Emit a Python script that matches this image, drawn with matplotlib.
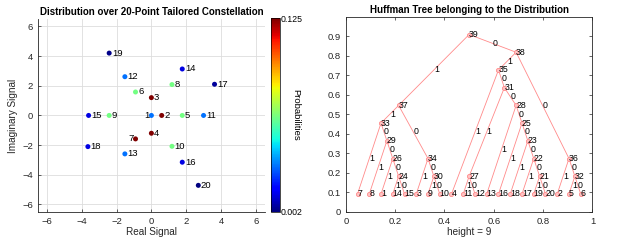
import numpy as np
import matplotlib
matplotlib.use("Agg")
import matplotlib.pyplot as plt

plt.rcParams['font.family'] = ['Liberation Sans', 'DejaVu Sans']

# ---------------- data ----------------
symbols = list(range(1, 21))
real_part = [0.0, 0.59, 0.0, 0.0, 1.77, -0.91, -0.91, 1.18, -2.42, 1.18,
             2.99, -1.52, -1.52, 1.77, -3.6, 1.77, 3.62, -3.64, -2.42, 2.69]
imag_part = [0.0, 0.0, 1.2, -1.2, 0.0, 1.58, -1.58, 2.08, 0.0, -2.08,
             0.0, 2.61, -2.59, 3.13, 0.0, -3.15, 2.1, -2.1, 4.2, -4.71]
probabilities = [0.03125, 0.125, 0.125, 0.125, 0.0625, 0.0625, 0.125, 0.0625, 0.0625, 0.0625,
                 0.03125, 0.03125, 0.03125, 0.013, 0.013, 0.013, 0.005, 0.013, 0.003, 0.002]

# Huffman tree: internal node -> (child on edge "1", child on edge "0")
internal_nodes = list(range(21, 40))
child_one = [19, 17, 18, 14, 16, 1, 11, 13, 8, 9, 27, 5, 7, 3, 4, 2, 33, 35, 37]
child_zero = [20, 21, 22, 15, 23, 24, 12, 25, 26, 10, 28, 6, 29, 30, 31, 32, 34, 36, 38]
root = 39
tree_height = 9

prob_min, prob_max = 0.002, 0.125
axis_ticks = [-6, -4, -2, 0, 2, 4, 6]

# ---------------- figure ----------------
fig = plt.figure(figsize=(6.23, 2.40), dpi=100)

# ---- left: constellation ----
ax1 = fig.add_axes([0.061, 0.117, 0.364, 0.804])
sc = ax1.scatter(real_part, imag_part, c=probabilities, cmap='jet',
                 vmin=prob_min, vmax=prob_max, s=13, zorder=3, linewidths=0)
for sym, xr, yi in zip(symbols, real_part, imag_part):
    if sym in (1, 7):
        ax1.text(xr - 0.1, yi, str(sym), ha='right', va='center', fontsize=6.8, zorder=4)
    else:
        ax1.text(xr + 0.15, yi, str(sym), ha='left', va='center', fontsize=6.8, zorder=4)
ax1.set_xlim(-6.5, 6.5)
ax1.set_ylim(-6.5, 6.5)
ax1.set_xticks(axis_ticks)
ax1.set_yticks(axis_ticks)
ax1.grid(True, color='#dddddd', linewidth=0.6)
ax1.set_axisbelow(True)
ax1.tick_params(labelsize=6.8, direction='in', length=2, width=0.5, colors='#262626')
for side in ('top', 'right'):
    ax1.spines[side].set_visible(False)
for side in ('left', 'bottom'):
    ax1.spines[side].set_linewidth(0.6)
    ax1.spines[side].set_color('#262626')
ax1.set_title('Distribution over 20-Point Tailored Constellation', fontsize=7,
              fontweight='bold', pad=3)
ax1.set_xlabel('Real Signal', fontsize=7.2, labelpad=1, color='#262626')
ax1.set_ylabel('Imaginary Signal', fontsize=7.2, labelpad=3, color='#262626')

cax = fig.add_axes([0.4355, 0.117, 0.0135, 0.807])
cb = fig.colorbar(sc, cax=cax)
cb.set_ticks([prob_min, prob_max])
cb.set_ticklabels(['0.002', '0.125'])
cb.ax.tick_params(labelsize=6.3, length=0, pad=1)
cb.outline.set_linewidth(0.5)
cb.set_label('Probabilities', rotation=270, fontsize=6.8, labelpad=-2)

# ---- right: Huffman tree ----
children = {n: (a, b) for n, a, b in zip(internal_nodes, child_one, child_zero)}

leaf_order = []
def collect(node):
    if node in children:
        collect(children[node][0])
        collect(children[node][1])
    else:
        leaf_order.append(node)
collect(root)
n_leaves = len(leaf_order)

pos_x, pos_y = {}, {}
def layout(node):
    if node in children:
        a, b = children[node]
        la, ha_ = layout(a)
        lb, hb = layout(b)
        leaves = la + lb
        h = max(ha_, hb) + 1
    else:
        leaves = [(leaf_order.index(node) + 1) / (n_leaves + 1)]
        h = 0
    pos_x[node] = np.mean(leaves)
    pos_y[node] = (h + 1) / (tree_height + 2)
    return leaves, h
layout(root)

ax2 = fig.add_axes([0.555, 0.118, 0.396, 0.812])
tree_color = '#ff8a8a'
for n in internal_nodes:
    for c, lab in zip(children[n], ('1', '0')):
        ax2.plot([pos_x[n], pos_x[c]], [pos_y[n], pos_y[c]], color=tree_color,
                 linewidth=0.6, zorder=2)
        mx = (pos_x[n] + pos_x[c]) / 2
        my = (pos_y[n] + pos_y[c]) / 2
        ax2.text(mx, my, lab, ha='left', va='center', fontsize=6.3, zorder=4)
all_nodes = list(pos_x.keys())
ax2.plot([pos_x[n] for n in all_nodes], [pos_y[n] for n in all_nodes], 'o',
         color=tree_color, markersize=3, markerfacecolor='#ffc4c4',
         markeredgewidth=0.6, zorder=3)
for n in all_nodes:
    ax2.text(pos_x[n], pos_y[n], str(n), ha='left', va='center', fontsize=6.3, zorder=4)

ax2.set_xlim(0, 1)
ax2.set_ylim(0, 1)
ax2.set_xticks([0, 0.2, 0.4, 0.6, 0.8, 1])
ax2.set_xticklabels(['0', '0.2', '0.4', '0.6', '0.8', '1'])
ax2.set_yticks(np.round(np.arange(0, 1.0, 0.1), 1))
ax2.set_yticklabels(['0', '0.1', '0.2', '0.3', '0.4', '0.5', '0.6', '0.7', '0.8', '0.9'])
ax2.tick_params(labelsize=6.8, direction='in', length=2, width=0.5,
                top=True, right=True, colors='#262626')
for side in ax2.spines:
    ax2.spines[side].set_linewidth(0.6)
    ax2.spines[side].set_color('#262626')
ax2.set_title('Huffman Tree belonging to the Distribution', fontsize=7,
              fontweight='bold', pad=3)
ax2.set_xlabel('height = 9', fontsize=7.2, labelpad=1, color='#262626')

fig.savefig('out.png', dpi=100)
